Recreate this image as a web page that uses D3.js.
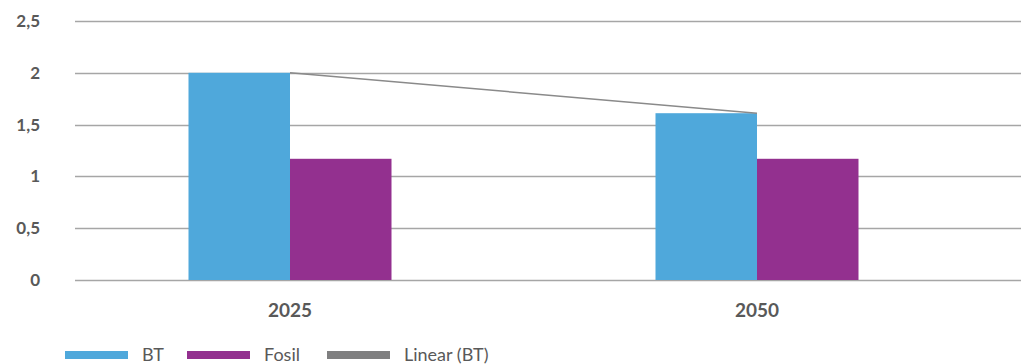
<!DOCTYPE html>
<html>
<head>
<meta charset="utf-8">
<script src="https://cdn.jsdelivr.net/npm/d3@7"></script>
<style>
  html, body { margin: 0; padding: 0; background: #fff; }
  svg { display: block; }
  text { font-family: Lato, "Open Sans", sans-serif; fill: #595959; }
</style>
</head>
<body>
<svg id="chart" width="1021" height="364"></svg>
<script>
// Chart data
const categories = ["2025", "2050"];
const seriesNames = ["BT", "Fosil"];
const btValues = [2.0, 1.61];
const fosilValues = [1.17, 1.17];
const yTicks = [0, 0.5, 1, 1.5, 2, 2.5];
const yTickLabels = ["0", "0,5", "1", "1,5", "2", "2,5"];
const legendLabels = ["BT", "Fosil", "Linear (BT)"];

const colors = { BT: "#4fa8db", Fosil: "#93308f", trend: "#8a8a8a" };

const svg = d3.select("#chart");

const y = d3.scaleLinear().domain([0, 2.5]).range([280, 21]);
const x0 = d3.scaleBand().domain(categories).range([56.5, 990.5]).paddingInner(0).paddingOuter(0);
const groupWidth = 203;
const x1 = d3.scaleBand().domain(seriesNames).range([0, groupWidth]);

// Horizontal grid lines
svg.append("g")
  .selectAll("line")
  .data(yTicks)
  .join("line")
  .attr("x1", 75).attr("x2", 1021)
  .attr("y1", d => Math.round(y(d)) + 0.5)
  .attr("y2", d => Math.round(y(d)) + 0.5)
  .attr("stroke", "#a6a6a6")
  .attr("stroke-width", 1.3);

// Y axis labels
svg.append("g")
  .selectAll("text")
  .data(yTicks)
  .join("text")
  .attr("x", 40)
  .attr("y", d => y(d))
  .attr("dy", "0.35em")
  .attr("text-anchor", "end")
  .attr("font-size", 17)
  .attr("font-weight", "bold")
  .text((d, i) => yTickLabels[i]);

// Bars
const rows = categories.map((c, i) => ({ cat: c, values: { BT: btValues[i], Fosil: fosilValues[i] } }));
const groups = svg.append("g")
  .selectAll("g")
  .data(rows)
  .join("g")
  .attr("transform", d => `translate(${x0(d.cat) + x0.bandwidth() / 2 - groupWidth / 2},0)`);

groups.selectAll("rect")
  .data(d => seriesNames.map(s => ({ s, v: d.values[s] })))
  .join("rect")
  .attr("x", d => x1(d.s))
  .attr("width", x1.bandwidth())
  .attr("y", d => y(d.v))
  .attr("height", d => y(0) - y(d.v))
  .attr("fill", d => colors[d.s]);

// Linear trend line of BT across category centres
const n = btValues.length;
const xs = d3.range(1, n + 1);
const mx = d3.mean(xs), my = d3.mean(btValues);
const slope = d3.sum(xs.map((xi, i) => (xi - mx) * (btValues[i] - my))) / d3.sum(xs.map(xi => (xi - mx) ** 2));
const intercept = my - slope * mx;
const trendPts = categories.map((c, i) => [x0(c) + x0.bandwidth() / 2, y(intercept + slope * (i + 1))]);
svg.append("path")
  .attr("d", d3.line()(trendPts))
  .attr("fill", "none")
  .attr("stroke", colors.trend)
  .attr("stroke-width", 1.5);

// X axis labels
svg.append("g")
  .selectAll("text")
  .data(categories)
  .join("text")
  .attr("x", d => x0(d) + x0.bandwidth() / 2)
  .attr("y", 317)
  .attr("text-anchor", "middle")
  .attr("font-size", 19)
  .attr("font-weight", "bold")
  .text(d => d);

// Legend
const legendX = [65, 187, 327];
const legendColors = [colors.BT, colors.Fosil, "#7f7f80"];
const legend = svg.append("g")
  .selectAll("g")
  .data(legendLabels)
  .join("g")
  .attr("transform", (d, i) => `translate(${legendX[i]},0)`);
legend.append("rect")
  .attr("x", 0).attr("y", 351)
  .attr("width", 63).attr("height", 8)
  .attr("fill", (d, i) => legendColors[i]);
legend.append("text")
  .attr("x", 77).attr("y", 361)
  .attr("font-size", 18)
  .text(d => d);
</script>
</body>
</html>
